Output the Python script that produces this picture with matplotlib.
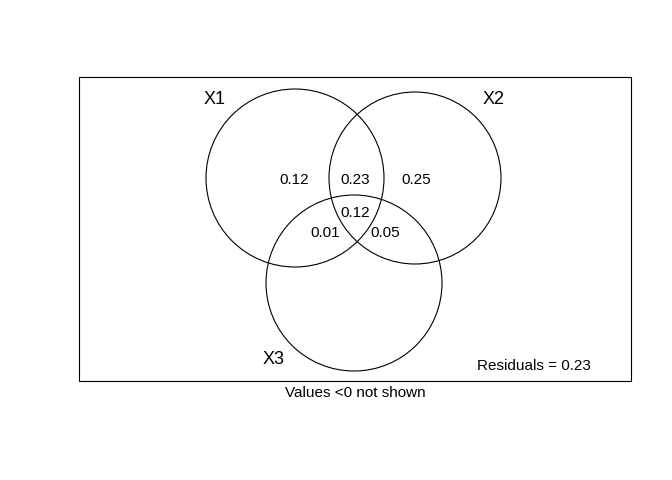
import matplotlib
matplotlib.use("Agg")
import matplotlib.pyplot as plt
from matplotlib.patches import Circle, Rectangle

plt.rcParams['font.family'] = ['Liberation Sans', 'DejaVu Sans']

set_names = ["X1", "X2", "X3"]
region_values = {"100": 0.12, "110": 0.23, "010": 0.25, "111": 0.12, "101": 0.01, "011": 0.05}
residuals = 0.23

# layout in pixel coordinates
circles = [(295, 178, 89), (415, 178, 86), (354, 283, 88)]
name_pos = [(215, 100), (494, 100), (274, 360)]
region_pos = {"100": (294, 180), "110": (355, 180), "010": (416, 180),
              "111": (355, 213), "101": (325, 233), "011": (385, 233)}

fig = plt.figure(figsize=(6.72, 4.8), dpi=100)
ax = fig.add_axes([0, 0, 1, 1])
ax.set_xlim(0, 672)
ax.set_ylim(480, 0)
ax.axis('off')

ax.add_patch(Rectangle((79, 77), 552, 304, fill=False, lw=0.8, ec='black'))
for (cx, cy, r) in circles:
    ax.add_patch(Circle((cx, cy), r, fill=False, lw=0.8, ec='black'))
for name, (x, y) in zip(set_names, name_pos):
    ax.text(x, y, name, fontsize=13, ha='center', va='center')
for key, v in region_values.items():
    x, y = region_pos[key]
    ax.text(x, y, "%.2f" % v, fontsize=11, ha='center', va='center')
ax.text(534, 366, "Residuals = %.2f" % residuals, fontsize=11, ha='center', va='center')
ax.text(355, 393, "Values <0 not shown", fontsize=11, ha='center', va='center')

fig.savefig("out.png", dpi=100)
